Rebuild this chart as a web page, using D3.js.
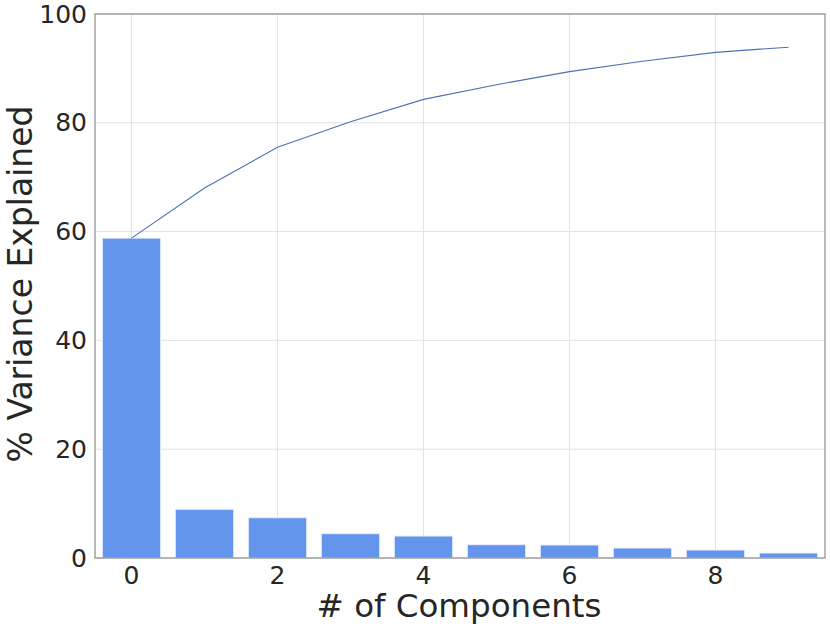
<!DOCTYPE html>
<html>
<head>
<meta charset="utf-8">
<script src="https://cdn.jsdelivr.net/npm/d3@7"></script>
<style>
  html, body { margin: 0; padding: 0; background: #fff; }
  svg { display: block; font-family: "DejaVu Sans", sans-serif; }
</style>
</head>
<body>
<svg id="chart" width="830" height="629"></svg>
<script>
// Data
const components = [0, 1, 2, 3, 4, 5, 6, 7, 8, 9];
const varianceExplained = [58.8, 8.95, 7.4, 4.47, 4.04, 2.45, 2.39, 1.84, 1.47, 0.92];
const cumulativeExplained = [58.8, 68.0, 75.5, 80.2, 84.3, 87.0, 89.4, 91.3, 92.95, 93.9];
const xTickValues = [0, 2, 4, 6, 8];
const yTickValues = [0, 20, 40, 60, 80, 100];

const svg = d3.select("#chart");
const margin = { left: 95, right: 5, top: 14, bottom: 71 };
const W = 830, H = 629;
const innerW = W - margin.left - margin.right;
const innerH = H - margin.top - margin.bottom;

const x = d3.scaleBand().domain(components).range([margin.left, margin.left + innerW])
  .paddingInner(0.2).paddingOuter(0.1);
const y = d3.scaleLinear().domain([0, 100]).range([margin.top + innerH, margin.top]);
const xc = d => x(d) + x.bandwidth() / 2;

// Grid
const grid = svg.append("g");
grid.selectAll("line.h").data(yTickValues).join("line")
  .attr("x1", margin.left).attr("x2", margin.left + innerW)
  .attr("y1", d => y(d)).attr("y2", d => y(d))
  .attr("stroke", "#e3e3e3").attr("stroke-width", 1);
grid.selectAll("line.v").data(xTickValues).join("line")
  .attr("x1", d => xc(d)).attr("x2", d => xc(d))
  .attr("y1", margin.top).attr("y2", margin.top + innerH)
  .attr("stroke", "#e3e3e3").attr("stroke-width", 1);

// Bars
svg.append("g").selectAll("rect").data(components).join("rect")
  .attr("x", d => x(d))
  .attr("width", x.bandwidth())
  .attr("y", (d, i) => y(varianceExplained[i]))
  .attr("height", (d, i) => y(0) - y(varianceExplained[i]))
  .attr("fill", "#6495ed")
  .attr("stroke", "#e8effc").attr("stroke-width", 1);

// Cumulative line
const line = d3.line().x((d, i) => xc(components[i])).y(d => y(d));
svg.append("path").datum(cumulativeExplained)
  .attr("d", line)
  .attr("fill", "none")
  .attr("stroke", "#4c72b0")
  .attr("stroke-width", 1.1);

// Frame
svg.append("rect")
  .attr("x", margin.left).attr("y", margin.top)
  .attr("width", innerW).attr("height", innerH)
  .attr("fill", "none").attr("stroke", "#8c8c8c").attr("stroke-width", 1.2);

// Axes
const xAxis = d3.axisBottom(x).tickValues(xTickValues).tickSize(0).tickPadding(8);
const gx = svg.append("g").attr("transform", `translate(0,${margin.top + innerH})`).call(xAxis);
gx.select(".domain").remove();
gx.selectAll("text").attr("font-size", 25).attr("fill", "#262626")
  .attr("font-family", "DejaVu Sans, sans-serif");

const yAxis = d3.axisLeft(y).tickValues(yTickValues).tickSize(0).tickPadding(8);
const gy = svg.append("g").attr("transform", `translate(${margin.left},0)`).call(yAxis);
gy.select(".domain").remove();
gy.selectAll("text").attr("font-size", 25).attr("fill", "#262626")
  .attr("font-family", "DejaVu Sans, sans-serif");

// Axis labels
svg.append("text")
  .attr("x", margin.left + innerW / 2 - 1).attr("y", 617)
  .attr("text-anchor", "middle").attr("font-size", 32.5).attr("fill", "#262626")
  .text("# of Components");

svg.append("text")
  .attr("transform", `translate(32,${margin.top + innerH / 2 - 2}) rotate(-90)`)
  .attr("text-anchor", "middle").attr("font-size", 33).attr("fill", "#262626")
  .text("% Variance Explained");
</script>
</body>
</html>
